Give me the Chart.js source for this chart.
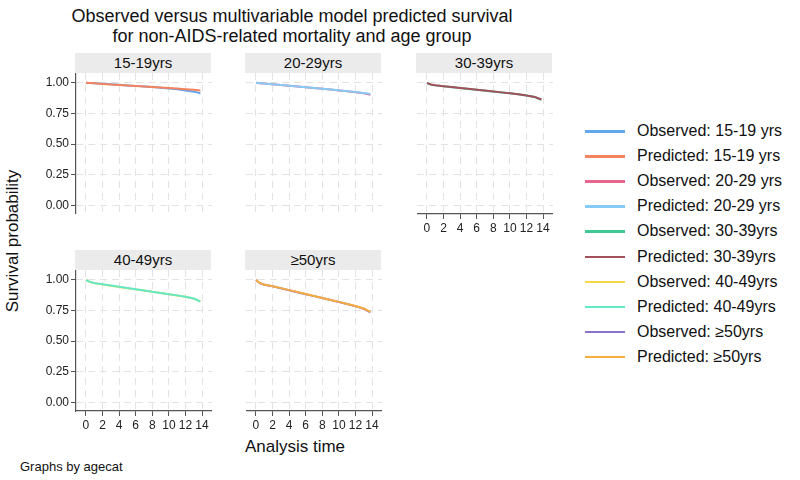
<!DOCTYPE html>
<html>
<head>
<meta charset="utf-8">
<script src="https://cdn.jsdelivr.net/npm/chart.js@4"></script>
<style>
  body { margin: 0; width: 800px; height: 480px; background: #fff; position: relative; overflow: hidden;
         font-family: "Liberation Sans", Arial, Helvetica, sans-serif; color: #111; }
  canvas { position: absolute; }
  .txt { position: absolute; white-space: nowrap; }
  .strip { position: absolute; background: #ebebeb; font-size: 15px; text-align: center; line-height: 20px; height: 20px; }
  .leg-row { position: absolute; left: 585px; height: 20px; font-size: 16px; line-height: 20px; white-space: nowrap; }
  .leg-line { position: absolute; left: 0; top: 9px; width: 40px; height: 2.5px; }
  .leg-text { position: absolute; left: 52px; top: 0; }
</style>
</head>
<body>
<div class="txt" style="left:0; width:584px; top:6px; font-size:18px; line-height:20px; text-align:center;">Observed versus multivariable model predicted survival<br>for non-AIDS-related mortality and age group</div>
<div class="txt" style="left:13px; top:241px; font-size:17px; transform:translate(-50%,-50%) rotate(-90deg);">Survival probability</div>
<div class="txt" style="left:0; width:590px; top:437px; font-size:17px; text-align:center;">Analysis time</div>
<div class="txt" style="left:20px; top:459px; font-size:13px;">Graphs by agecat</div>
<div id="legend"></div>

<script>
// --- Data ---
const times = [0, 0.25, 0.5, 1, 2, 3, 4, 5, 6, 7, 8, 9, 10, 11, 12, 13, 13.8];
const groups = ['15-19yrs', '20-29yrs', '30-39yrs', '40-49yrs', '≥50yrs'];

const observed1519  = [1.000, 0.999, 0.998, 0.996, 0.992, 0.988, 0.984, 0.979, 0.975, 0.970, 0.965, 0.960, 0.954, 0.947, 0.938, 0.928, 0.915];
const predicted1519 = [1.000, 0.999, 0.998, 0.996, 0.991, 0.987, 0.983, 0.978, 0.974, 0.970, 0.966, 0.962, 0.958, 0.953, 0.948, 0.943, 0.938];
const observed2029  = [1.000, 0.998, 0.997, 0.994, 0.988, 0.982, 0.976, 0.970, 0.964, 0.958, 0.951, 0.945, 0.938, 0.931, 0.923, 0.914, 0.903];
const predicted2029 = [1.000, 0.998, 0.997, 0.994, 0.988, 0.982, 0.976, 0.970, 0.964, 0.958, 0.952, 0.946, 0.939, 0.932, 0.925, 0.917, 0.909];
const observed3039  = [1.000, 0.990, 0.985, 0.979, 0.971, 0.964, 0.957, 0.950, 0.943, 0.936, 0.929, 0.921, 0.914, 0.906, 0.897, 0.884, 0.862];
const predicted3039 = [1.000, 0.991, 0.986, 0.980, 0.972, 0.965, 0.958, 0.951, 0.944, 0.937, 0.929, 0.922, 0.914, 0.906, 0.897, 0.885, 0.864];
const observed4049  = [1.000, 0.989, 0.982, 0.973, 0.962, 0.952, 0.942, 0.932, 0.922, 0.912, 0.902, 0.892, 0.882, 0.872, 0.861, 0.846, 0.824];
const predicted4049 = [1.000, 0.990, 0.983, 0.974, 0.963, 0.953, 0.943, 0.933, 0.923, 0.913, 0.903, 0.893, 0.883, 0.873, 0.862, 0.847, 0.822];
const observed50    = [1.000, 0.984, 0.972, 0.960, 0.947, 0.931, 0.915, 0.899, 0.883, 0.867, 0.851, 0.835, 0.819, 0.802, 0.785, 0.764, 0.735];
const predicted50   = [1.000, 0.985, 0.973, 0.961, 0.948, 0.932, 0.916, 0.900, 0.884, 0.868, 0.852, 0.836, 0.820, 0.803, 0.786, 0.766, 0.738];

const observedSeries  = [observed1519, observed2029, observed3039, observed4049, observed50];
const predictedSeries = [predicted1519, predicted2029, predicted3039, predicted4049, predicted50];

const xTicks = [0, 2, 4, 6, 8, 10, 12, 14];
const yTicks = [0, 0.25, 0.5, 0.75, 1];

const legendLabels = [
    'Observed: 15-19 yrs', 'Predicted: 15-19 yrs',
    'Observed: 20-29 yrs', 'Predicted: 20-29 yrs',
    'Observed: 30-39yrs', 'Predicted: 30-39yrs',
    'Observed: 40-49yrs', 'Predicted: 40-49yrs',
    'Observed: ≥50yrs', 'Predicted: ≥50yrs'
];
const seriesColors = [
    '#62a6ee', '#f4825e',
    '#e8668e', '#86cbf5',
    '#3fc893', '#a4505b',
    '#f9d749', '#62e9c6',
    '#8a72c8', '#f7ac3e'
];

// --- Layout (page pixels) ---
const PW = 136, PH = 141;
const panels = [
    { left: 76,  top: 73,  yAxis: true,  xAxis: false },
    { left: 246, top: 73,  yAxis: false, xAxis: false },
    { left: 417, top: 73,  yAxis: false, xAxis: true  },
    { left: 76,  top: 270, yAxis: true,  xAxis: true  },
    { left: 246, top: 270, yAxis: false, xAxis: true  }
];

const axisColor = '#555';
const gridColor = '#e3e3e3';

// keep the plot area exactly where the layout says (no label overhang padding)
const noPadding = s => { s.paddingTop = 0; s.paddingBottom = 0; s.paddingLeft = 0; s.paddingRight = 0; };

const makePanel = (p, i) => {
    const yW = p.yAxis ? 40 : 0;
    const xH = p.xAxis ? 24 : 0;

    const strip = document.createElement('div');
    strip.className = 'strip';
    strip.style.left = (p.left - 1) + 'px';
    strip.style.top = (p.top - 20) + 'px';
    strip.style.width = PW + 'px';
    strip.textContent = groups[i];
    document.body.appendChild(strip);

    const canvas = document.createElement('canvas');
    canvas.width = yW + PW;
    canvas.height = PH + xH;
    canvas.style.left = (p.left - yW) + 'px';
    canvas.style.top = p.top + 'px';
    document.body.appendChild(canvas);

    const toPoints = arr => times.map((t, k) => ({ x: t, y: arr[k] }));

    new Chart(canvas.getContext('2d'), {
        type: 'line',
        data: {
            datasets: [
                { label: legendLabels[2 * i], data: toPoints(observedSeries[i]), borderColor: seriesColors[2 * i], order: 1 },
                { label: legendLabels[2 * i + 1], data: toPoints(predictedSeries[i]), borderColor: seriesColors[2 * i + 1], order: 0 }
            ]
        },
        options: {
            responsive: false,
            animation: false,
            devicePixelRatio: 1,
            layout: { padding: 0 },
            plugins: { legend: { display: false }, tooltip: { enabled: false } },
            elements: { point: { radius: 0 }, line: { borderWidth: 2, tension: 0 } },
            scales: {
                x: {
                    type: 'linear', min: -1.2, max: 15.2,
                    afterBuildTicks: s => { s.ticks = xTicks.map(v => ({ value: v })); },
                    afterFit: s => { s.height = xH; noPadding(s); },
                    grid: { color: gridColor, lineWidth: 1, drawTicks: p.xAxis, tickLength: 5, tickColor: axisColor },
                    border: { display: p.xAxis, color: axisColor, width: 1.2, dash: [7, 5] },
                    ticks: { display: p.xAxis, color: '#222', font: { size: 12, family: 'Liberation Sans' }, padding: 2, maxRotation: 0, autoSkip: false }
                },
                y: {
                    type: 'linear', min: -0.07, max: 1.08,
                    afterBuildTicks: s => { s.ticks = yTicks.map(v => ({ value: v })); },
                    afterFit: s => { s.width = yW; noPadding(s); },
                    grid: { color: gridColor, lineWidth: 1, drawTicks: p.yAxis, tickLength: 5, tickColor: axisColor },
                    border: { display: p.yAxis, color: axisColor, width: 1.2, dash: [7, 5] },
                    ticks: { display: p.yAxis, color: '#222', font: { size: 12, family: 'Liberation Sans' }, padding: 2,
                             callback: v => v.toFixed(2) }
                }
            }
        }
    });
};

panels.forEach(makePanel);

// --- Legend ---
const legend = document.getElementById('legend');
legendLabels.forEach((label, i) => {
    const row = document.createElement('div');
    row.className = 'leg-row';
    row.style.top = (121 + i * 25.1) + 'px';
    row.innerHTML = '<div class="leg-line" style="background:' + seriesColors[i] + '"></div><div class="leg-text">' + label + '</div>';
    legend.appendChild(row);
});
</script>
</body>
</html>
